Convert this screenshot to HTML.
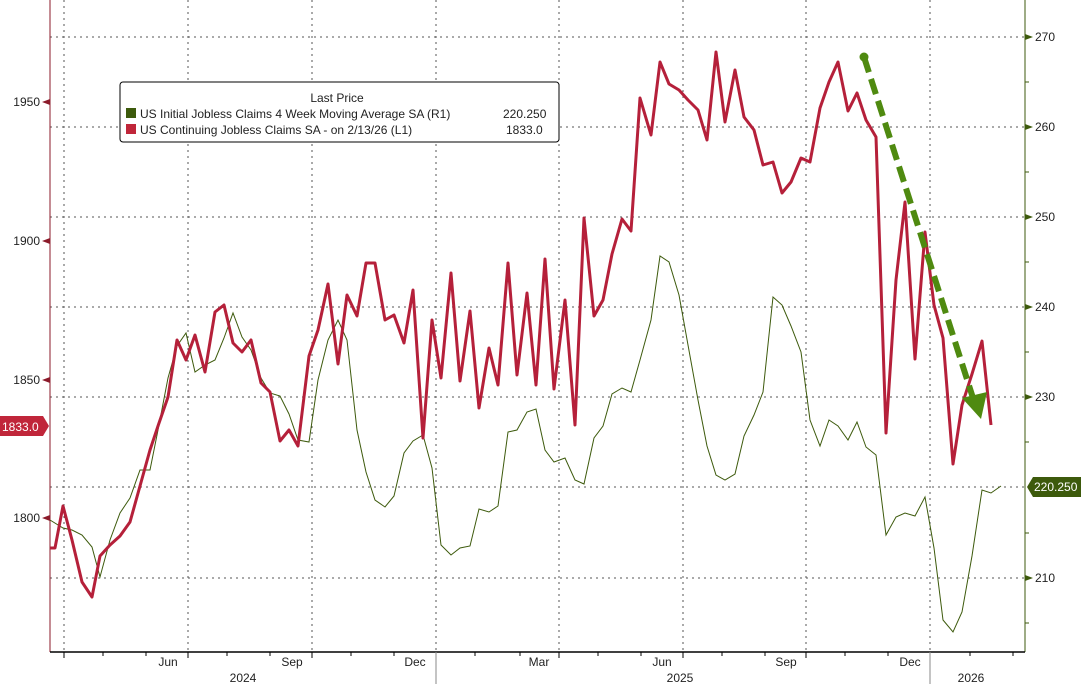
<!DOCTYPE html>
<html><head><meta charset="utf-8"><style>
body{margin:0;background:#fff;}
svg{display:block;font-family:"Liberation Sans",sans-serif;}
</style></head><body>
<svg width="1081" height="684" viewBox="0 0 1081 684" xmlns="http://www.w3.org/2000/svg">
<rect width="1081" height="684" fill="#fff"/>
<g stroke="#555" stroke-width="1" stroke-dasharray="2,4">
<line x1="50" x2="1025" y1="37" y2="37"/><line x1="50" x2="1025" y1="127" y2="127"/>
<line x1="50" x2="1025" y1="217" y2="217"/><line x1="50" x2="1025" y1="307" y2="307"/>
<line x1="50" x2="1025" y1="397" y2="397"/><line x1="50" x2="1025" y1="487" y2="487"/>
<line x1="50" x2="1025" y1="578" y2="578"/>
<line x1="64" x2="64" y1="0" y2="652"/><line x1="188" x2="188" y1="0" y2="652"/>
<line x1="312" x2="312" y1="0" y2="652"/><line x1="436" x2="436" y1="0" y2="652"/>
<line x1="559" x2="559" y1="0" y2="652"/><line x1="683" x2="683" y1="0" y2="652"/>
<line x1="806" x2="806" y1="0" y2="652"/><line x1="930" x2="930" y1="0" y2="652"/>
</g>
<line x1="50" y1="0" x2="50" y2="652" stroke="#8b1a2a" stroke-width="1"/>
<line x1="1025" y1="0" x2="1025" y2="652" stroke="#3d5a0c" stroke-width="1"/>
<line x1="50" y1="652" x2="1025" y2="652" stroke="#000" stroke-width="1.5"/>
<g stroke="#000" stroke-width="1">
<line x1="64" x2="64" y1="652" y2="658"/><line x1="103" x2="103" y1="652" y2="656"/><line x1="146" x2="146" y1="652" y2="656"/><line x1="188" x2="188" y1="652" y2="658"/><line x1="227" x2="227" y1="652" y2="656"/><line x1="270" x2="270" y1="652" y2="656"/><line x1="312" x2="312" y1="652" y2="658"/><line x1="351" x2="351" y1="652" y2="656"/><line x1="394" x2="394" y1="652" y2="656"/><line x1="436" x2="436" y1="652" y2="658"/><line x1="475" x2="475" y1="652" y2="656"/><line x1="520" x2="520" y1="652" y2="656"/><line x1="559" x2="559" y1="652" y2="658"/><line x1="598" x2="598" y1="652" y2="656"/><line x1="641" x2="641" y1="652" y2="656"/><line x1="683" x2="683" y1="652" y2="658"/><line x1="722" x2="722" y1="652" y2="656"/><line x1="765" x2="765" y1="652" y2="656"/><line x1="806" x2="806" y1="652" y2="658"/><line x1="845" x2="845" y1="652" y2="656"/><line x1="888" x2="888" y1="652" y2="656"/><line x1="930" x2="930" y1="652" y2="658"/><line x1="970" x2="970" y1="652" y2="656"/><line x1="1013" x2="1013" y1="652" y2="656"/>
<line x1="436" x2="436" y1="652" y2="684" stroke="#888"/><line x1="930" x2="930" y1="652" y2="684" stroke="#888"/>
</g>
<g font-size="12" fill="#222" text-anchor="middle">
<text x="168" y="666">Jun</text><text x="292" y="666">Sep</text><text x="415" y="666">Dec</text><text x="539" y="666">Mar</text><text x="662" y="666">Jun</text><text x="786" y="666">Sep</text><text x="910" y="666">Dec</text>
<text x="243" y="682">2024</text><text x="680" y="682">2025</text><text x="971" y="682">2026</text>
</g>
<g font-size="12" fill="#222" text-anchor="end">
<text x="40" y="106">1950</text><text x="40" y="245">1900</text><text x="40" y="384">1850</text><text x="40" y="522">1800</text>
</g>
<g fill="#8b1a2a"><path d="M42 102l8-3v6z"/><path d="M42 241l8-3v6z"/><path d="M42 380l8-3v6z"/><path d="M42 518l8-3v6z"/></g>
<g stroke="#3d5a0c"><line x1="1025" x2="1029" y1="82" y2="82"/><line x1="1025" x2="1029" y1="172" y2="172"/><line x1="1025" x2="1029" y1="262" y2="262"/><line x1="1025" x2="1029" y1="352" y2="352"/><line x1="1025" x2="1029" y1="442" y2="442"/><line x1="1025" x2="1029" y1="533" y2="533"/><line x1="1025" x2="1029" y1="623" y2="623"/></g>
<g fill="#3d5a0c"><path d="M1025 34l8 3-8 3z"/><path d="M1025 124l8 3-8 3z"/><path d="M1025 214l8 3-8 3z"/><path d="M1025 304l8 3-8 3z"/><path d="M1025 394l8 3-8 3z"/><path d="M1025 575l8 3-8 3z"/></g>
<g font-size="12" fill="#222">
<text x="1035" y="41">270</text><text x="1035" y="131">260</text><text x="1035" y="221">250</text><text x="1035" y="311">240</text><text x="1035" y="401">230</text><text x="1035" y="582">210</text>
</g>
<polyline fill="none" stroke="#3d5a0c" stroke-width="1" points="50,520 63,528 72,530 82,535 92,547 100,577 110,540 120,513 130,498 140,470 150,470 158,430 168,378 177,346 186,333 195,372 205,365 215,360 224,338 233,313 242,337 251,350 261,378 270,393 280,396 289,414 298,440 309,442 318,380 328,340 338,320 347,340 357,430 366,472 375,500 385,507 394,496 404,453 413,441 423,435 432,468 441,545 451,555 460,548 470,546 479,509 489,512 498,506 508,432 517,430 527,412 536,409 545,450 554,462 565,458 575,480 584,484 594,438 603,426 612,394 622,388 631,392 640,360 651,320 660,256 669,262 679,295 688,345 698,400 707,446 716,475 725,480 735,474 744,436 754,415 763,392 773,297 782,305 791,326 801,352 810,420 820,446 829,420 838,426 848,440 857,422 866,447 876,455 886,535 896,517 905,513 915,516 925,497 934,548 943,620 953,632 962,612 972,556 982,490 991,493 1001,486"/>
<polyline fill="none" stroke="#b5203a" stroke-width="3" stroke-linejoin="round" points="50,548 55,548 63,506 72,540 82,582 92,597 100,556 110,545 120,536 130,522 140,486 150,450 158,426 168,397 177,340 186,360 195,335 205,372 215,312 224,305 233,343 242,352 251,340 261,383 270,392 280,441 289,430 298,446 309,356 318,330 328,284 338,364 347,295 357,316 366,263 375,263 385,320 394,315 404,343 413,290 423,438 432,320 441,378 451,273 460,381 470,311 479,408 489,348 498,385 508,263 517,375 527,293 536,385 545,259 554,389 565,300 575,425 584,218 594,316 603,300 612,254 622,219 631,231 640,98 651,135 660,62 669,84 679,90 688,100 698,110 707,140 716,52 725,122 735,70 744,117 754,130 763,165 773,162 782,193 791,182 801,158 810,162 820,108 829,82 838,62 848,111 857,93 866,120 876,137 886,433 896,280 905,202 915,359 925,232 934,305 943,338 953,464 962,405 972,374 982,341 991,425"/>
<circle cx="864" cy="57" r="4.5" fill="#4f8a10"/>
<line x1="864" y1="57" x2="973" y2="398" stroke="#4f8a10" stroke-width="6" stroke-dasharray="16,7"/>
<path d="M962 398l25-6-6 27z" fill="#4f8a10"/>
<rect x="120" y="82" width="439" height="60" rx="3" fill="#fff" stroke="#000" stroke-width="1"/>
<text x="337" y="102" font-size="12" fill="#222" text-anchor="middle">Last Price</text>
<rect x="126" y="108" width="10" height="10" fill="#3d5a0c"/>
<rect x="126" y="124" width="10" height="10" fill="#c0263a"/>
<g font-size="12" fill="#222">
<text x="140" y="118">US Initial Jobless Claims 4 Week Moving Average SA  (R1)</text>
<text x="503" y="118">220.250</text>
<text x="140" y="134">US Continuing Jobless Claims SA -  on 2/13/26  (L1)</text>
<text x="506" y="134">1833.0</text>
</g>
<path d="M0 416h43l6 10-6 10H0z" fill="#c0263a"/>
<text x="2" y="431" font-size="12" fill="#fff">1833.0</text>
<path d="M1027 487l6-10h48v20h-48z" fill="#3d5a0c"/>
<text x="1034" y="491" font-size="12" fill="#fff">220.250</text>
</svg>
</body></html>
